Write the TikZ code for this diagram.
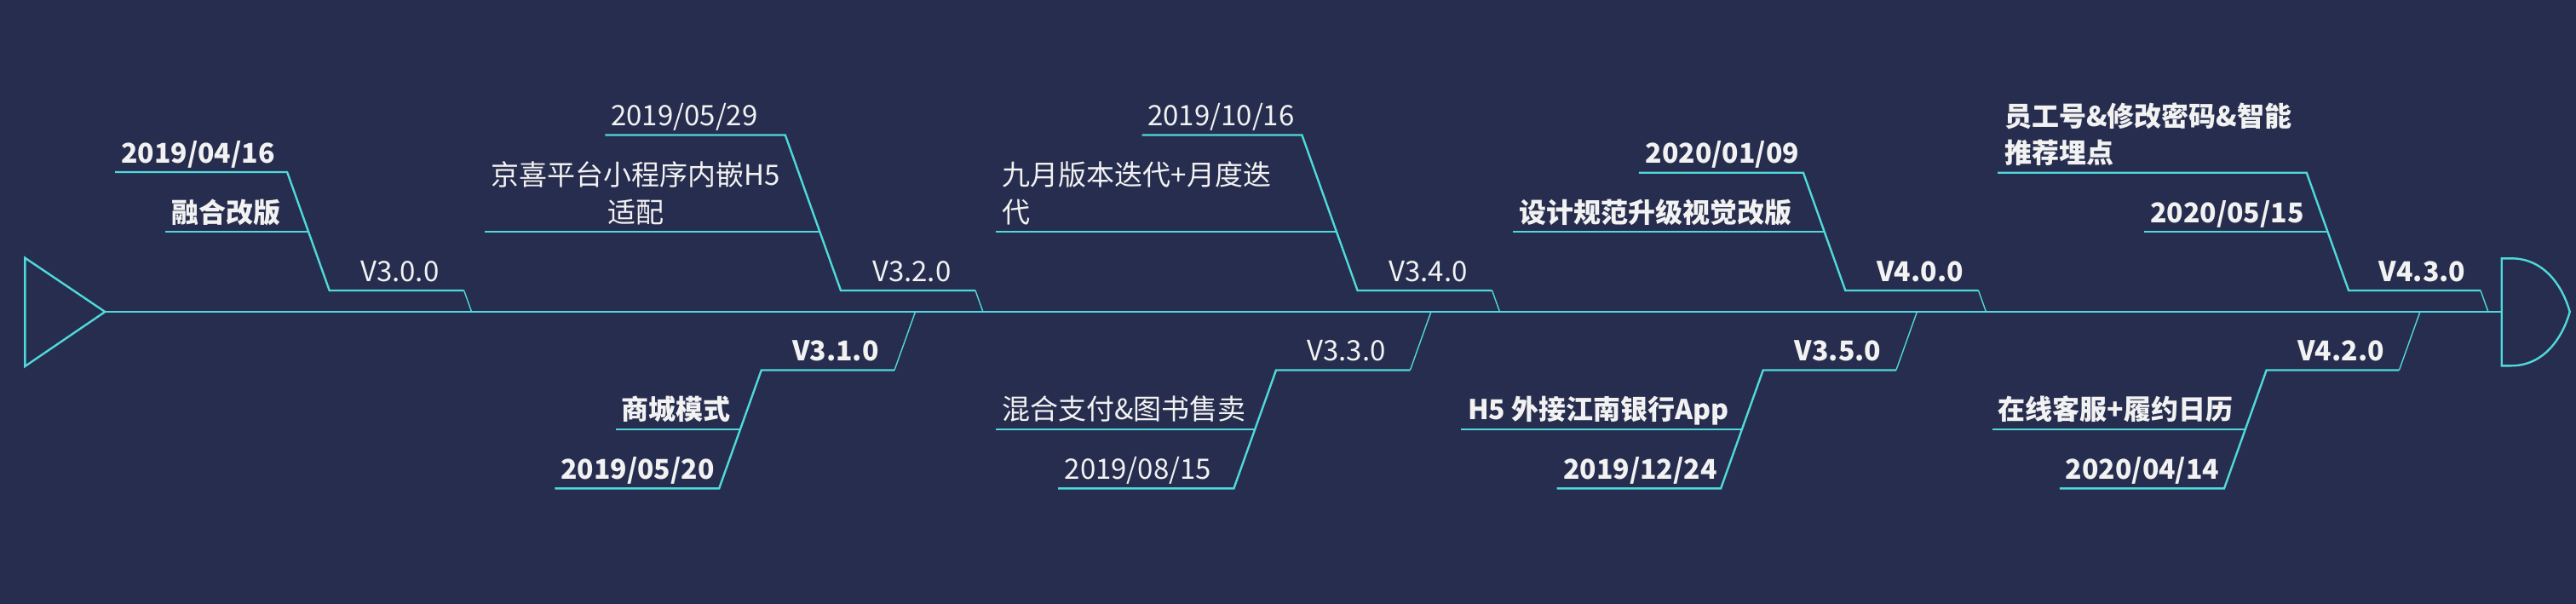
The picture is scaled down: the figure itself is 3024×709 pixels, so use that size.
\documentclass[tikz,border=0pt]{standalone}
\usepackage{fontspec}
\setmainfont{Noto Sans CJK SC}
\definecolor{bg}{HTML}{272D4E}
\definecolor{cy}{HTML}{4FD9DA}
\definecolor{tx}{HTML}{F2F2F2}
\tikzset{
  ln/.style={draw=cy, line width=2.4, line join=miter},
  tk/.style={draw=cy, line width=1.4},
  lbl/.style={anchor=base west, inner sep=0pt, text=tx, font=\fontsize{33}{44}\selectfont},
  blbl/.style={lbl, font=\fontsize{32}{44}\selectfont\bfseries},
}
\begin{document}
\begin{tikzpicture}[x=1pt,y=-1pt]
\fill[bg] (0,0) rectangle (3024,709);
\useasboundingbox (0,0) rectangle (3024,709);

% head and tail
\coordinate (h1) at (29.3,302.7);
\coordinate (h2) at (123.3,366);
\coordinate (h3) at (29.3,430);
\coordinate (e1) at (2936.7,303.3);
\coordinate (e2) at (2936.7,366);
\coordinate (e3) at (2936.7,429.3);
\draw[ln] (h1) -- (h2) -- (h3) -- cycle;
\draw[ln] (h2) -- (e2);
\draw[ln] (e1) -- (2948,303.3) .. controls (2986,303.3) and (3008,335) .. (3016.7,366)
  .. controls (3008,397) and (2986,429.3) .. (2948,429.3) -- (e3) -- cycle;

% ---------- top branch 1
\coordinate (t1m) at (553.6,366);
\coordinate (t1ve) at (544.7,341);
\coordinate (t1v) at (386.7,341);
\coordinate (t1d) at (362.1,272);
\coordinate (t1t) at (337.1,202);
\coordinate (t1dl) at (193.8,272);
\coordinate (t1tl) at (135,202);
\draw[tk] (t1m) -- (t1ve);
\draw[ln] (t1ve) -- (t1v) -- (t1t) -- (t1tl);
\draw[ln] (t1d) -- (t1dl);
\node[lbl] (t1vl) at (423,330) {V3.0.0};
\node[blbl] (t1dt) at (142,191) {2019/04/16};
\node[blbl] (t1ds) at (201,261) {融合改版};

% ---------- top branch 2
\coordinate (t2m) at (1153.9,366);
\coordinate (t2ve) at (1145,341);
\coordinate (t2v) at (987,341);
\coordinate (t2d) at (962.4,272);
\coordinate (t2t) at (921.8,158.5);
\coordinate (t2dl) at (568.7,272);
\coordinate (t2tl) at (710.3,158.5);
\draw[tk] (t2m) -- (t2ve);
\draw[ln] (t2ve) -- (t2v) -- (t2t) -- (t2tl);
\draw[ln] (t2d) -- (t2dl);
\node[lbl] (t2vl) at (1024,330) {V3.2.0};
\node[lbl] (t2dt) at (717,147.5) {2019/05/29};
\node[lbl] (t2ds) at (576.5,217.5) {京喜平台小程序内嵌H5};
\node[lbl, anchor=base] (t2ds2) at (746.5,261) {适配};

% ---------- top branch 3
\coordinate (t3m) at (1760.5,366);
\coordinate (t3ve) at (1751.6,341);
\coordinate (t3v) at (1593.6,341);
\coordinate (t3d) at (1569,272);
\coordinate (t3t) at (1528.4,158.5);
\coordinate (t3dl) at (1169,272);
\coordinate (t3tl) at (1340.6,158.5);
\draw[tk] (t3m) -- (t3ve);
\draw[ln] (t3ve) -- (t3v) -- (t3t) -- (t3tl);
\draw[ln] (t3d) -- (t3dl);
\node[lbl] (t3vl) at (1630,330) {V3.4.0};
\node[lbl] (t3dt) at (1347,147.5) {2019/10/16};
\node[lbl] (t3ds) at (1176.5,217.5) {九月版本迭代+月度迭};
\node[lbl] (t3ds2) at (1176.5,261) {代};

% ---------- top branch 4
\coordinate (t4m) at (2331.4,366);
\coordinate (t4ve) at (2322.5,341);
\coordinate (t4v) at (2166.3,341);
\coordinate (t4d) at (2141.7,272);
\coordinate (t4t) at (2116.9,202.7);
\coordinate (t4dl) at (1775.6,272);
\coordinate (t4tl) at (1923.9,202.7);
\draw[tk] (t4m) -- (t4ve);
\draw[ln] (t4ve) -- (t4v) -- (t4t) -- (t4tl);
\draw[ln] (t4d) -- (t4dl);
\node[blbl] (t4vl) at (2203,330) {V4.0.0};
\node[blbl] (t4dt) at (1931.5,191.7) {2020/01/09};
\node[blbl] (t4ds) at (1783,261) {设计规范升级视觉改版};

% ---------- top branch 5
\coordinate (t5m) at (2920.9,366);
\coordinate (t5ve) at (2912,341);
\coordinate (t5v) at (2757.1,341);
\coordinate (t5d) at (2732.5,272);
\coordinate (t5t) at (2707.7,202.7);
\coordinate (t5dl) at (2517,272);
\coordinate (t5tl) at (2345.2,202.7);
\draw[tk] (t5m) -- (t5ve);
\draw[ln] (t5ve) -- (t5v) -- (t5t) -- (t5tl);
\draw[ln] (t5d) -- (t5dl);
\node[blbl] (t5vl) at (2792.5,330) {V4.3.0};
\node[blbl] (t5ds) at (2353,148) {员工号\&修改密码\&智能};
\node[blbl] (t5ds2) at (2353,191.7) {推荐埋点};
\node[blbl] (t5dt) at (2524,261) {2020/05/15};

% ---------- bottom branch 1
\coordinate (b1m) at (1074.5,366);
\coordinate (b1ve) at (1050,434.5);
\coordinate (b1v) at (893.8,434.5);
\coordinate (b1d) at (869.1,503.7);
\coordinate (b1t) at (844.2,573.3);
\coordinate (b1dl) at (722.6,503.7);
\coordinate (b1tl) at (651.4,573.3);
\draw[tk] (b1m) -- (b1ve);
\draw[ln] (b1ve) -- (b1v) -- (b1t) -- (b1tl);
\draw[ln] (b1d) -- (b1dl);
\node[blbl] (b1vl) at (930,423) {V3.1.0};
\node[blbl] (b1ds) at (729.5,492.5) {商城模式};
\node[blbl] (b1dt) at (658,562) {2019/05/20};

% ---------- bottom branch 2
\coordinate (b2m) at (1679.9,366);
\coordinate (b2ve) at (1655.4,434.5);
\coordinate (b2v) at (1498,434.5);
\coordinate (b2d) at (1473.3,503.7);
\coordinate (b2t) at (1448.4,573.3);
\coordinate (b2dl) at (1169,503.7);
\coordinate (b2tl) at (1242.1,573.3);
\draw[tk] (b2m) -- (b2ve);
\draw[ln] (b2ve) -- (b2v) -- (b2t) -- (b2tl);
\draw[ln] (b2d) -- (b2dl);
\node[lbl] (b2vl) at (1534,423) {V3.3.0};
\node[lbl] (b2ds) at (1176,492.5) {混合支付\&图书售卖};
\node[lbl] (b2dt) at (1249.5,562) {2019/08/15};

% ---------- bottom branch 3
\coordinate (b3m) at (2250.4,366);
\coordinate (b3ve) at (2225.9,434.5);
\coordinate (b3v) at (2069.7,434.5);
\coordinate (b3d) at (2045,503.7);
\coordinate (b3t) at (2020.1,573.3);
\coordinate (b3dl) at (1715,503.7);
\coordinate (b3tl) at (1827.7,573.3);
\draw[tk] (b3m) -- (b3ve);
\draw[ln] (b3ve) -- (b3v) -- (b3t) -- (b3tl);
\draw[ln] (b3d) -- (b3dl);
\node[blbl] (b3vl) at (2106.5,423) {V3.5.0};
\node[blbl] (b3ds) at (1723,492.5) {H5 外接江南银行App};
\node[blbl] (b3dt) at (1835,562) {2019/12/24};

% ---------- bottom branch 4
\coordinate (b4m) at (2840.9,366);
\coordinate (b4ve) at (2816.4,434.5);
\coordinate (b4v) at (2660.6,434.5);
\coordinate (b4d) at (2635.9,503.7);
\coordinate (b4t) at (2611,573.3);
\coordinate (b4dl) at (2338.8,503.7);
\coordinate (b4tl) at (2417.8,573.3);
\draw[tk] (b4m) -- (b4ve);
\draw[ln] (b4ve) -- (b4v) -- (b4t) -- (b4tl);
\draw[ln] (b4d) -- (b4dl);
\node[blbl] (b4vl) at (2697,423) {V4.2.0};
\node[blbl] (b4ds) at (2345.5,492.5) {在线客服+履约日历};
\node[blbl] (b4dt) at (2424.5,562) {2020/04/14};
\end{tikzpicture}
\end{document}
